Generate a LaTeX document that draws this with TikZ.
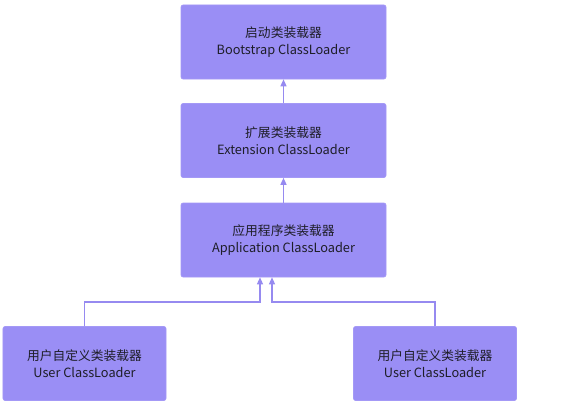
\documentclass[tikz,border=0pt]{standalone}
\usepackage{fontspec}
\setmainfont{Noto Sans CJK SC}
\usetikzlibrary{arrows.meta}
\definecolor{boxfill}{RGB}{154,142,245}
\definecolor{linecol}{RGB}{150,138,240}
\definecolor{txt}{RGB}{30,30,40}
\begin{document}
\begin{tikzpicture}[x=1bp,y=1bp,
  loader/.style={draw=boxfill!90!white,fill=boxfill,rounded corners=2bp,line width=0.6bp,
    minimum width=205bp,minimum height=74bp,align=center,text=txt,font=\fontsize{12.8}{17.5}\selectfont,inner sep=0pt},
  userloader/.style={loader,minimum width=163bp},
  conn/.style={draw=linecol,line width=1.3bp,-{Triangle[length=7bp,width=6bp]}}]
\useasboundingbox (0,0) rectangle (570,403);
\node[loader] (boot) at (283.5,361) {启动类装载器\\Bootstrap ClassLoader};
\node[loader] (ext) at (283.5,262.5) {扩展类装载器\\Extension ClassLoader};
\node[loader] (app) at (283.5,163) {应用程序类装载器\\Application ClassLoader};
\node[userloader] (u1) at (84.5,39.5) {用户自定义类装载器\\User ClassLoader};
\node[userloader] (u2) at (435,39.5) {用户自定义类装载器\\User ClassLoader};
\coordinate (a1) at (260,0);
\coordinate (a2) at (272,0);
\draw[conn] (ext.north) -- (boot.south);
\draw[conn] (app.north) -- (ext.south);
\draw[conn] (u1.north) |- (a1|-0,101) -- (a1|-app.south);
\draw[conn] (u2.north) |- (a2|-0,101) -- (a2|-app.south);
\end{tikzpicture}
\end{document}
